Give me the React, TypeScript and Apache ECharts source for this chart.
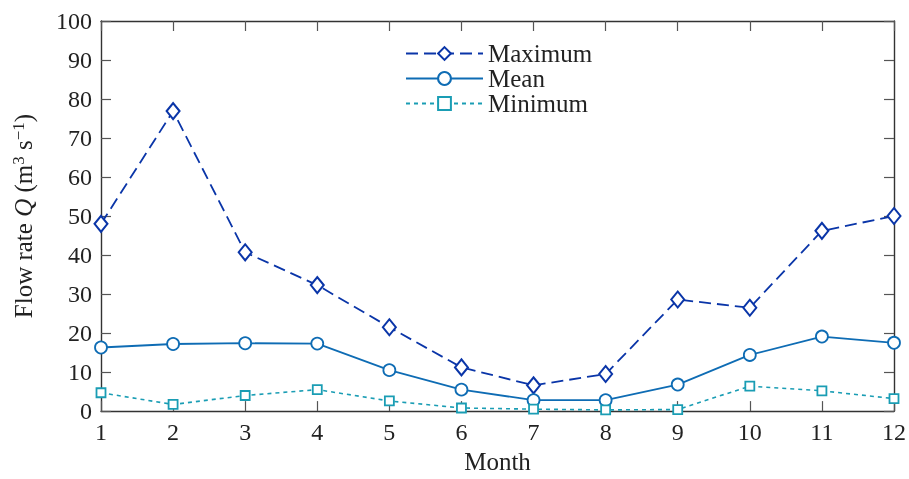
import React, { useEffect, useRef } from "react";
import * as echarts from "echarts";

const months = ["1", "2", "3", "4", "5", "6", "7", "8", "9", "10", "11", "12"];
const maximum = [48.0, 76.9, 40.7, 32.3, 21.5, 11.2, 6.6, 9.5, 28.6, 26.5, 46.2, 50.0];
const mean = [16.3, 17.2, 17.4, 17.3, 10.5, 5.5, 2.8, 2.8, 6.8, 14.4, 19.1, 17.5];
const minimum = [4.7, 1.7, 4.0, 5.5, 2.6, 0.8, 0.5, 0.3, 0.4, 6.4, 5.2, 3.2];

const FONT = "Liberation Serif";
const FS = 24;
const FN = 25;

export default function App() {
  const ref = useRef<HTMLDivElement>(null);
  useEffect(() => {
    if (!ref.current) return;
    const chart = echarts.init(ref.current, undefined, { renderer: "svg" });
    const axisLine = { show: true, onZero: false, lineStyle: { color: "#333", width: 1.4 } };
    const tick = { show: true, inside: true, length: 10, lineStyle: { color: "#555", width: 1.2 } };
    chart.setOption({
      animation: false,
      textStyle: { fontFamily: FONT },
      grid: { left: 101, right: 12, top: 21, bottom: 60, containLabel: false },
      legend: {
        orient: "vertical",
        left: 400,
        top: 36,
        itemWidth: 77,
        itemHeight: 16,
        itemGap: 0,
        textStyle: { fontFamily: FONT, fontSize: FN, color: "#222", lineHeight: 23 },
        data: ["Maximum", "Mean", "Minimum"],
      },
      xAxis: [
        {
          type: "category",
          data: months,
          boundaryGap: false,
          axisLine,
          axisTick: { ...tick, alignWithLabel: true, interval: 0 },
          axisLabel: { fontFamily: FONT, fontSize: FS, color: "#222", margin: 9, interval: 0 },
          splitLine: { show: false },
          name: "Month",
          nameLocation: "middle",
          nameGap: 37,
          nameTextStyle: { fontFamily: FONT, fontSize: FN, color: "#222" },
        },
        {
          type: "category",
          data: months,
          boundaryGap: false,
          position: "top",
          axisLine,
          axisTick: { ...tick, alignWithLabel: true, interval: 0 },
          axisLabel: { show: false },
        },
      ],
      yAxis: [
        {
          type: "value",
          min: 0,
          max: 100,
          interval: 10,
          axisLine,
          axisTick: tick,
          splitLine: { show: false },
          axisLabel: { fontFamily: FONT, fontSize: FS, color: "#222", margin: 9 },
          name: "Flow rate {i|Q} (m{sup|3} s{sup|−1})",
          nameLocation: "middle",
          nameGap: 64,
          nameRotate: 90,
          nameTextStyle: {
            fontFamily: FONT,
            fontSize: FN,
            color: "#222",
            rich: {
              i: { fontFamily: FONT, fontSize: FN, fontStyle: "italic", color: "#222" },
              sup: { fontFamily: FONT, fontSize: 17, color: "#222", verticalAlign: "top", padding: [0, 0, 10, 0] },
            },
          },
        },
        {
          type: "value",
          min: 0,
          max: 100,
          interval: 10,
          position: "right",
          axisLine,
          axisTick: tick,
          splitLine: { show: false },
          axisLabel: { show: false },
        },
      ],
      series: [
        {
          name: "Maximum",
          type: "line",
          data: maximum,
          symbol: "diamond",
          symbolSize: [13, 16],
          showAllSymbol: true,
          itemStyle: { color: "#fff", borderColor: "#0a35a8", borderWidth: 2 },
          lineStyle: { color: "#0a35a8", width: 1.8, type: [12, 6] },
          color: "#0a35a8",
          z: 3,
        },
        {
          name: "Mean",
          type: "line",
          data: mean,
          symbol: "circle",
          symbolSize: 12,
          showAllSymbol: true,
          itemStyle: { color: "#fff", borderColor: "#0e6cb4", borderWidth: 1.8 },
          lineStyle: { color: "#0e6cb4", width: 1.8, type: "solid" },
          color: "#0e6cb4",
          z: 3,
        },
        {
          name: "Minimum",
          type: "line",
          data: minimum,
          symbol: "rect",
          symbolSize: 9,
          showAllSymbol: true,
          itemStyle: { color: "#fff", borderColor: "#1a9db4", borderWidth: 1.8 },
          lineStyle: { color: "#1a9db4", width: 1.6, type: [4, 4] },
          color: "#1a9db4",
          z: 3,
        },
      ],
    });
    return () => chart.dispose();
  }, []);
  return <div ref={ref} style={{ position: "fixed", left: 0, top: 0, width: 909, height: 479 }} />;
}
